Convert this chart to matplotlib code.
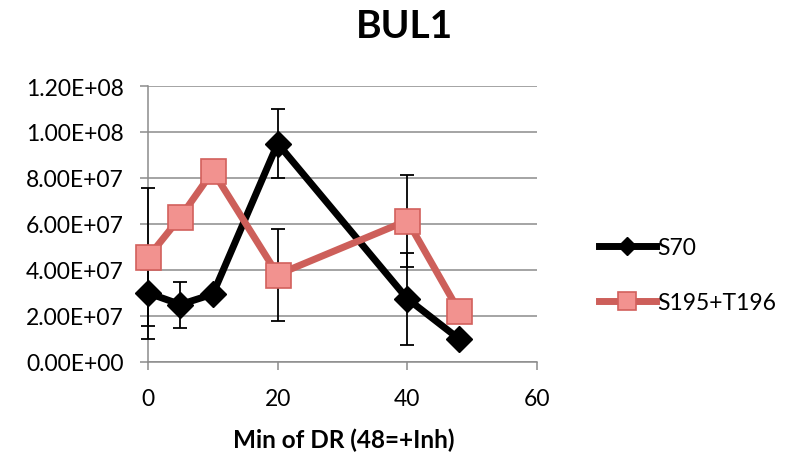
import matplotlib
matplotlib.use("Agg")
import matplotlib.pyplot as plt
from matplotlib.ticker import FuncFormatter, MultipleLocator

plt.rcParams['font.family'] = ['Lato', 'DejaVu Sans']

title = "BUL1"
xlabel = "Min of DR (48=+Inh)"
x_vals = [0, 5, 10, 20, 40, 48]
s70_name = "S70"
s70_vals = [3.0e7, 2.5e7, 2.95e7, 9.5e7, 2.75e7, 1.0e7]
s70_err = [2.0e7, 1.0e7, 0.0, 1.5e7, 2.0e7, 0.0]
s195_name = "S195+T196"
s195_vals = [4.55e7, 6.3e7, 8.3e7, 3.8e7, 6.15e7, 2.2e7]
s195_err = [3.0e7, 0.0, 0.0, 2.0e7, 2.0e7, 0.0]

fig = plt.figure(figsize=(7.95, 4.56), dpi=100)
ax = fig.add_axes([148/795, 1-363/456, (537-148)/795, (363-87)/456])

ax.errorbar(x_vals, s70_vals, yerr=s70_err, fmt='none', ecolor='black',
            elinewidth=1.3, capsize=5, capthick=1.3, zorder=3, clip_on=False)
ax.errorbar(x_vals, s195_vals, yerr=s195_err, fmt='none', ecolor='black',
            elinewidth=1.3, capsize=5, capthick=1.3, zorder=3, clip_on=False)
l1, = ax.plot(x_vals, s70_vals, color='black', lw=5, marker='D', markersize=13,
              markerfacecolor='black', markeredgecolor='black', zorder=4,
              clip_on=False, label=s70_name)
l2, = ax.plot(x_vals, s195_vals, color='#CD5F5A', lw=5, marker='s', markersize=18,
              markerfacecolor='#F2928F', markeredgecolor='#D2605C', markeredgewidth=1.2,
              zorder=5, clip_on=False, label=s195_name)

ax.set_xlim(0, 60)
ax.set_ylim(0, 1.2e8)
ax.xaxis.set_major_locator(MultipleLocator(20))
ax.yaxis.set_major_locator(MultipleLocator(2e7))
ax.yaxis.set_major_formatter(FuncFormatter(lambda v, p: "%.2E" % v))
ax.grid(axis='y', color='#8c8c8c', lw=1.1, zorder=0)
ax.set_axisbelow(True)
for s in ['top', 'right']:
    ax.spines[s].set_visible(False)
for s in ['left', 'bottom']:
    ax.spines[s].set_color('#8c8c8c')
    ax.spines[s].set_linewidth(1.1)
ax.tick_params(axis='both', color='#8c8c8c', width=1.1, length=5.5, labelsize=16.5,
               labelcolor='black')
ax.tick_params(axis='y', pad=12)
ax.tick_params(axis='x', pad=13)

fig.text(404/795, 1-27/456, title, ha='center', va='center', fontsize=28,
         fontweight='bold')
fig.text(344/795, 1-440/456, xlabel, ha='center', va='center', fontsize=17.5,
         fontweight='bold')

fig.legend(handles=[l1, l2], loc='center left', bbox_to_anchor=(578/795, 1-276/456),
           frameon=False, fontsize=16.5, handlelength=2.5, handletextpad=0.05,
           labelspacing=1.45, markerscale=0.7)

fig.savefig("out.png", dpi=100)
